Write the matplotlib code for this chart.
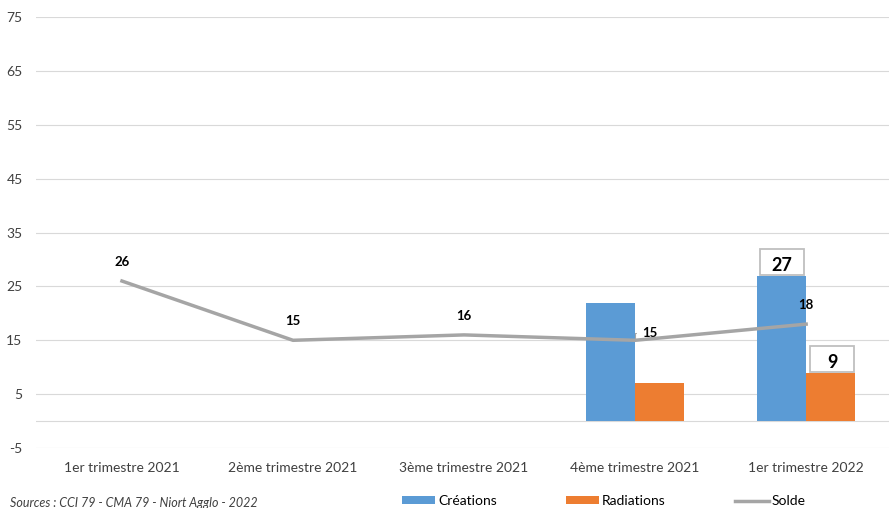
import matplotlib.pyplot as plt
import numpy as np
from matplotlib.patches import Rectangle

plt.rcParams['font.family'] = ['Lato', 'DejaVu Sans']
plt.rcParams['axes.unicode_minus'] = False

categories = ['1er trimestre 2021', '2ème trimestre 2021', '3ème trimestre 2021',
              '4ème trimestre 2021', '1er trimestre 2022']
creations = [np.nan, np.nan, np.nan, 22, 27]
radiations = [np.nan, np.nan, np.nan, 7, 9]
solde = [26, 15, 16, 15, 18]
yticks = [-5, 5, 15, 25, 35, 45, 55, 65, 75]

blue = '#5B9BD5'
orange = '#ED7D31'
gray = '#A5A5A5'

fig = plt.figure(figsize=(8.89, 5.08), dpi=100)
ax = fig.add_axes([0.041, 0.118, 0.962, 0.8485])

x = np.arange(len(categories))
w = 0.285
b1 = ax.bar(x - w / 2, creations, w, color=blue, label='Créations', zorder=2)
b2 = ax.bar(x + w / 2, radiations, w, color=orange, label='Radiations', zorder=2)
l1, = ax.plot(x, solde, color=gray, lw=2.5, label='Solde', zorder=3)

ax.set_xlim(-0.5, 4.5)
ax.set_ylim(-5, 75)
ax.set_yticks(yticks)
ax.set_xticks(x)
ax.set_xticklabels(categories)
ax.tick_params(length=0, labelsize=10, labelcolor='#404040')
ax.tick_params(axis='y', pad=10)
ax.tick_params(axis='x', pad=10)
ax.grid(axis='y', color='#D9D9D9', lw=0.8, zorder=0)
ax.axhline(0, color='#D9D9D9', lw=0.8, zorder=1)
for s in ax.spines.values():
    s.set_visible(False)

# solde labels
for i, v in enumerate(solde):
    if i == 3:
        ax.annotate(str(v), xy=(i, v), xytext=(i + 0.04, v + 1.3), fontsize=9.5,
                    fontweight='bold', va='center', ha='left',
                    arrowprops=dict(arrowstyle='-', color=gray, lw=0.8, shrinkA=2, shrinkB=0,
                                    connectionstyle='angle,angleA=0,angleB=90,rad=0'))
    else:
        ax.text(i, v + 3.6, str(v), fontsize=9.5, fontweight='bold', ha='center', va='center')

# boxed bar labels for the last quarter
bw = 0.9 * w
bh = 4.8
for xc, v in [(4 - w / 2, creations[4]), (4 + w / 2 + 0.01, radiations[4])]:
    y0 = v + 0.2
    ax.add_patch(Rectangle((xc - bw / 2, y0), bw, bh, fc='white', ec='#BFBFBF',
                           lw=1.3, zorder=4))
    ax.text(xc, y0 + 1.6, str(v), fontsize=13, fontweight='bold', ha='center',
            va='center', zorder=5)

fig.legend(handles=[b1, b2, l1], loc='center left', bbox_to_anchor=(0.452, 0.014),
           ncol=3, frameon=False, fontsize=10, handlelength=2.4, handletextpad=0.2,
           columnspacing=5.0, handleheight=0.45, borderpad=0, borderaxespad=0)
fig.text(0.011, 0.002, 'Sources : CCI 79 - CMA 79 - Niort Agglo - 2022', fontsize=9,
         style='italic', color='#404040')

fig.savefig('out.png', dpi=100)
